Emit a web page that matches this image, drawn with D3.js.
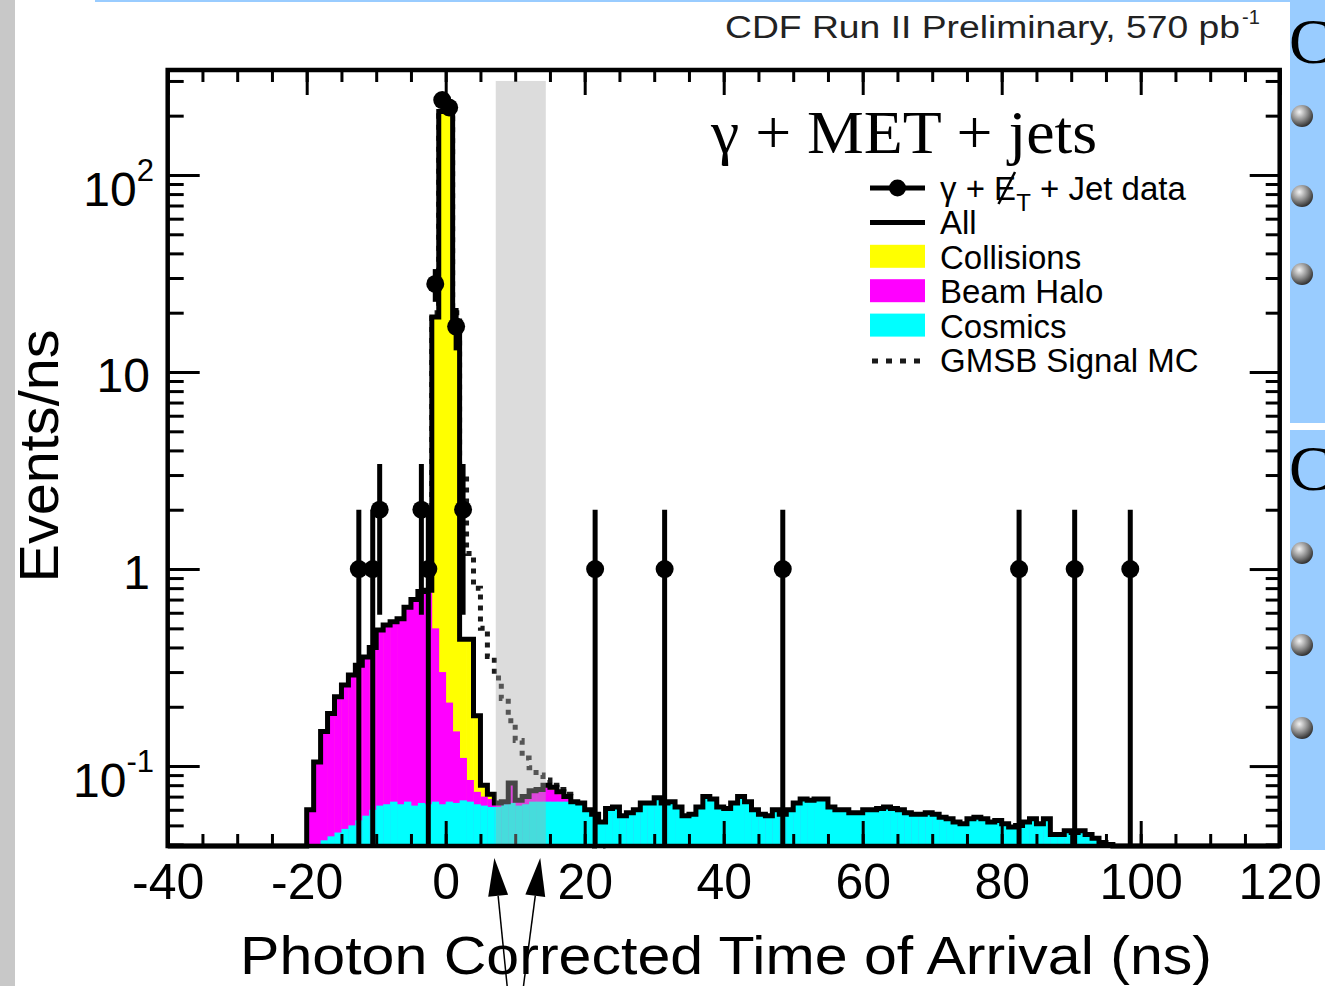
<!DOCTYPE html>
<html lang="en">
<meta charset="utf-8">
<style>
  body { margin: 0; background: #fff; }
  svg text { font-family: "Liberation Sans", Arial, Helvetica, sans-serif; }
</style>
<body>
<div id="chart"></div>

<script src="https://d3js.org/d3.v7.min.js"></script>
<script>

// ---- data (events / ns, 1 ns bins) ----
// stored bins start at -20 ns, bin i covers [firstBin + i, firstBin + i + 1)
var firstBin = -20;

var cosmics = [
  0.036, 0.040, 0.042, 0.044, 0.046, 0.048, 0.050, 0.053, 0.056, 0.060,
  0.063, 0.064, 0.066, 0.064, 0.066, 0.063, 0.065, 0.064, 0.066, 0.064,
  0.066, 0.065, 0.067, 0.066, 0.064, 0.063, 0.062, 0.062, 0.064, 0.065,
  0.063, 0.064, 0.066, 0.066, 0.066, 0.066, 0.066, 0.066,
  0.066, 0.065, 0.060, 0.057, 0.052, 0.061, 0.062, 0.056, 0.058, 0.060,
  0.065, 0.065, 0.069, 0.065, 0.066, 0.062, 0.056, 0.057, 0.062, 0.070,
  0.068, 0.062, 0.061, 0.065, 0.070, 0.066, 0.060, 0.057, 0.056, 0.060,
  0.057, 0.060, 0.065, 0.068, 0.067, 0.068, 0.068, 0.062, 0.060, 0.060,
  0.058, 0.058, 0.060, 0.060, 0.061, 0.062, 0.061, 0.060, 0.058, 0.057,
  0.057, 0.058, 0.057, 0.055, 0.054, 0.052, 0.051, 0.054, 0.055, 0.054,
  0.052, 0.053, 0.051, 0.049, 0.050, 0.052, 0.054, 0.051, 0.054, 0.045,
  0.045, 0.047, 0.046, 0.047, 0.045, 0.043, 0.041, 0.040, 0.039, 0.038,
  0.036, 0.030
];

var beamHalo = [
  0.024, 0.065, 0.108, 0.141, 0.179, 0.210, 0.240, 0.272, 0.302, 0.340,
  0.427, 0.456, 0.474, 0.496, 0.574, 0.637, 0.705, 0.696, 0.434, 0.236,
  0.144, 0.085, 0.043, 0.019, 0.010, 0.007, 0.006, 0.002, 0.001, 0.015,
  0.003, 0.005, 0.008, 0.009, 0.012, 0.010, 0.006, 0.003
];

var collisions = [
  0, 0, 0, 0, 0, 0, 0, 0, 0, 0,
  0, 0, 0, 0, 0, 0, 0, 0.02, 18.5, 209.7,
  209.8, 17.85, 0.33, 0.355, 0.106, 0.010, 0.004, 0.001, 0.001, 0.002,
  0.001, 0.001, 0.001, 0.001, 0.002, 0.002, 0.002, 0.001
];

// GMSB signal MC, first bin starts at -4 ns
var signalStart = -4;
var gmsbSignal = [
  0.05, 0.3, 20, 200, 205, 20, 3.0, 1.2, 0.8, 0.5,
  0.36, 0.28, 0.22, 0.17, 0.135, 0.11, 0.098, 0.09, 0.085, 0.08,
  0.076, 0.072, 0.062, 0.052, 0.044, 0.038, 0.032
];

// gamma + MET + jet data (bin centre, events)
var dataTime  = [-12.5, -10.5, -9.5, -3.5, -2.5, -1.5, -0.5, 0.5, 1.5, 2.5, 21.5, 31.5, 48.5, 82.5, 90.5, 98.5];
var dataCount = [1, 1, 2, 2, 1, 28, 240, 220, 17, 2, 1, 1, 1, 1, 1, 1];

var xTicks = [-40, -20, 0, 20, 40, 60, 80, 100, 120];
var yTickValues = [0.1, 1, 10, 100];
var yTickBase = ["10", "1", "10", "10"];
var yTickExp  = ["-1", "", "", "2"];

// signal timing window (ns) and the arrows pointing at it
var signalWindow = [7.2, 14.4];
var windowTop = 300;
var arrowTimes = [7.0, 13.6];

// ---- layout ----
var W = 1325, H = 986;
var plotL = 167.7, plotR = 1279.7, plotT = 70, plotB = 846;
var yMin = 0.0393, yMax = 341;

var svg = d3.select("#chart").append("svg")
  .attr("width", W).attr("height", H);

var x = d3.scaleLinear().domain([-40, 120]).range([plotL, plotR]);
var y = d3.scaleLog().domain([yMin, yMax]).range([plotB, plotT]);
function yc(v) { return y(Math.max(v, yMin)); }

// page decorations around the picture
svg.append("rect").attr("x", 0).attr("y", 0).attr("width", 15).attr("height", H).attr("fill", "#c8c8c8");
svg.append("rect").attr("x", 95).attr("y", 0).attr("width", 1195).attr("height", 2).attr("fill", "#99ccff");
svg.append("rect").attr("x", 1290).attr("y", 0).attr("width", 35).attr("height", 423).attr("fill", "#99ccff");
svg.append("rect").attr("x", 1290).attr("y", 430).attr("width", 35).attr("height", 420).attr("fill", "#99ccff");
svg.append("text").attr("x", 1289).attr("y", 63).attr("font-size", 64)
  .style("font-family", "'Liberation Serif', 'Times New Roman', serif").text("C");
svg.append("text").attr("x", 1289).attr("y", 490).attr("font-size", 64)
  .style("font-family", "'Liberation Serif', 'Times New Roman', serif").text("C");

var defs = svg.append("defs");
var grad = defs.append("radialGradient").attr("id", "ball")
  .attr("cx", "38%").attr("cy", "32%").attr("r", "70%");
grad.append("stop").attr("offset", "0%").attr("stop-color", "#f4f4f4");
grad.append("stop").attr("offset", "55%").attr("stop-color", "#8a8a8a");
grad.append("stop").attr("offset", "100%").attr("stop-color", "#2e2e2e");
[116, 196, 274, 553, 645, 728].forEach(function(cy) {
  svg.append("circle").attr("cx", 1302).attr("cy", cy).attr("r", 11).attr("fill", "url(#ball)");
});

// ---- histogram stack ----
function valAt(arr, start, t) {
  var i = t - start;
  return (i >= 0 && i < arr.length) ? arr[i] : 0;
}
var bins = d3.range(-40, 120).map(function(t) {
  var c = valAt(cosmics, firstBin, t),
      h = valAt(beamHalo, firstBin, t),
      k = valAt(collisions, firstBin, t);
  return {t: t, cos: c, halo: c + h, all: c + h + k};
});
var sigBins = gmsbSignal.map(function(v, i) { return {t: signalStart + i, sig: v}; });

// step outline: horizontal top per bin, verticals between bins
function stepPath(rows, key) {
  var p = "";
  rows.forEach(function(d, i) {
    var yy = yc(d[key]);
    p += (i === 0 ? "M" + x(d.t) + "," + plotB + "L" : "L") + x(d.t) + "," + yy + "L" + x(d.t + 1) + "," + yy;
  });
  var last = rows[rows.length - 1];
  return p + "L" + x(last.t + 1) + "," + plotB;
}

// signal MC first, so the stack hides it where it is lower
svg.append("path").attr("d", stepPath(sigBins, "sig"))
  .attr("fill", "none").attr("stroke", "#1a1a1a").attr("stroke-width", 5)
  .attr("stroke-dasharray", "5,6");

// stacked fills, one bar per bin for each layer
var plot = svg.append("g");
[["all", "#ffff00"], ["halo", "#ff00ff"], ["cos", "#00ffff"]].forEach(function(layer) {
  plot.append("g").selectAll("rect")
    .data(bins.filter(function(d) { return d[layer[0]] > yMin; }))
    .enter().append("rect")
    .attr("x", function(d) { return x(d.t); })
    .attr("width", function(d) { return x(d.t + 1) - x(d.t) + 0.4; })
    .attr("y", function(d) { return yc(d[layer[0]]); })
    .attr("height", function(d) { return plotB - yc(d[layer[0]]); })
    .attr("fill", layer[1]);
});

// ---- ticks (all pointing inward) ----
var xMinor = d3.range(-40, 121, 5);
var yMinor = [];
[0.01, 0.1, 1, 10, 100].forEach(function(dec) {
  for (var m = 2; m <= 9; m++) {
    var v = m * dec;
    if (v > yMin && v < yMax) yMinor.push(v);
  }
});

function tickAxis(axis, tx, ty) {
  var g = svg.append("g").attr("transform", "translate(" + tx + "," + ty + ")").call(axis);
  g.select(".domain").remove();
  g.selectAll("text").remove();
  g.selectAll("line").attr("stroke", "#000").attr("stroke-width", 3);
  return g;
}
tickAxis(d3.axisBottom(x).tickValues(xMinor).tickSize(-12), 0, plotB);
tickAxis(d3.axisBottom(x).tickValues(xTicks).tickSize(-25), 0, plotB);
tickAxis(d3.axisTop(x).tickValues(xMinor).tickSize(-12), 0, plotT);
tickAxis(d3.axisTop(x).tickValues(xTicks).tickSize(-25), 0, plotT);
tickAxis(d3.axisLeft(y).tickValues(yMinor).tickSize(-16), plotL, 0);
tickAxis(d3.axisLeft(y).tickValues(yTickValues).tickSize(-32), plotL, 0);
tickAxis(d3.axisRight(y).tickValues(yMinor).tickSize(-14), plotR, 0);
tickAxis(d3.axisRight(y).tickValues(yTickValues).tickSize(-30), plotR, 0);

// total outline
svg.append("path").attr("d", stepPath(bins, "all"))
  .attr("fill", "none").attr("stroke", "#000").attr("stroke-width", 5);

// timing window band
svg.append("rect")
  .attr("x", x(signalWindow[0])).attr("y", y(windowTop))
  .attr("width", x(signalWindow[1]) - x(signalWindow[0]))
  .attr("height", plotB - y(windowTop))
  .attr("fill", "#aaaaaa").attr("fill-opacity", 0.41);

// frame
svg.append("rect").attr("x", plotL).attr("y", plotT)
  .attr("width", plotR - plotL).attr("height", plotB - plotT)
  .attr("fill", "none").attr("stroke", "#000").attr("stroke-width", 4.5);

// ---- data points with Poisson errors ----
var data = dataTime.map(function(t, i) { return {t: t, n: dataCount[i]}; });
var pg = svg.append("g");
pg.selectAll("line.err").data(data).enter().append("line")
  .attr("class", "err")
  .attr("x1", function(d) { return x(d.t); })
  .attr("x2", function(d) { return x(d.t); })
  .attr("y1", function(d) { return yc(d.n - Math.sqrt(d.n)); })
  .attr("y2", function(d) { return yc(d.n + Math.sqrt(d.n)); })
  .attr("stroke", "#000").attr("stroke-width", 5);
pg.selectAll("circle").data(data).enter().append("circle")
  .attr("cx", function(d) { return x(d.t); })
  .attr("cy", function(d) { return y(d.n); })
  .attr("r", 9).attr("fill", "#000");

// ---- axis labels ----
var xl = svg.append("g").attr("transform", "translate(0," + plotB + ")")
  .call(d3.axisBottom(x).tickValues(xTicks).tickSize(0).tickPadding(17)
    .tickFormat(function(d) { return String(d); }));
xl.select(".domain").remove();
xl.attr("font-size", 50).attr("font-family", null);
xl.selectAll("text").attr("fill", "#000");

yTickValues.forEach(function(v, i) {
  var hasExp = yTickExp[i] !== "";
  var t = svg.append("text")
    .attr("x", hasExp ? 154 : 150)
    .attr("y", y(v) + (hasExp ? 31 : 20))
    .attr("text-anchor", "end").attr("font-size", 48);
  t.append("tspan").text(yTickBase[i]);
  if (hasExp) t.append("tspan").attr("font-size", 31).attr("dy", -25).text(yTickExp[i]);
});

svg.append("text")
  .attr("transform", "translate(58,456) rotate(-90)")
  .attr("text-anchor", "middle").attr("font-size", 55)
  .attr("textLength", 253).attr("lengthAdjust", "spacingAndGlyphs")
  .text("Events/ns");

svg.append("text")
  .attr("x", 726).attr("y", 974).attr("text-anchor", "middle").attr("font-size", 54)
  .attr("textLength", 972).attr("lengthAdjust", "spacingAndGlyphs")
  .text("Photon Corrected Time of Arrival (ns)");

svg.append("text")
  .attr("x", 725).attr("y", 38).attr("font-size", 31).attr("fill", "#222")
  .attr("textLength", 515).attr("lengthAdjust", "spacingAndGlyphs")
  .text("CDF Run II Preliminary, 570 pb");
svg.append("text")
  .attr("x", 1242).attr("y", 24).attr("font-size", 20).attr("fill", "#222")
  .text("-1");

svg.append("text")
  .attr("x", 711).attr("y", 153).attr("font-size", 62)
  .style("font-family", "'Liberation Serif', 'Times New Roman', serif")
  .attr("textLength", 386).attr("lengthAdjust", "spacingAndGlyphs")
  .text("γ + MET + jets");

// ---- arrows under the axis ----
arrowTimes.forEach(function(t, i) {
  var tipX = x(t), tipY = plotB + 12;
  var tailX = tipX + (i === 0 ? 13 : -17), tailY = H + 2;
  var ang = Math.atan2(tipY - tailY, tipX - tailX);
  var len = 38, half = 10;
  var bx = tipX - len * Math.cos(ang), by = tipY - len * Math.sin(ang);
  var px = -Math.sin(ang) * half, py = Math.cos(ang) * half;
  svg.append("line").attr("x1", tailX).attr("y1", tailY).attr("x2", bx).attr("y2", by)
    .attr("stroke", "#000").attr("stroke-width", 1.5);
  svg.append("path")
    .attr("d", "M" + tipX + "," + tipY + "L" + (bx + px) + "," + (by + py) + "L" + (bx - px) + "," + (by - py) + "Z")
    .attr("fill", "#000");
});

// ---- legend ----
var lgX = 870, lgW = 55, lgTextX = 940, lgBase = 200, lgStep = 34.4;
var lg = svg.append("g").attr("font-size", 33);
function rowY(i) { return lgBase + i * lgStep; }

lg.append("line").attr("x1", lgX).attr("x2", lgX + lgW).attr("y1", rowY(0) - 12).attr("y2", rowY(0) - 12)
  .attr("stroke", "#000").attr("stroke-width", 5);
lg.append("circle").attr("cx", lgX + lgW / 2).attr("cy", rowY(0) - 12).attr("r", 8.5).attr("fill", "#000");
var t0 = lg.append("text").attr("x", lgTextX).attr("y", rowY(0));
t0.append("tspan").text("γ + ");
t0.append("tspan").text("E");
t0.append("tspan").attr("font-size", 24).attr("dy", 11).text("T");
t0.append("tspan").attr("dy", -11).text(" + Jet data");
var ext = t0.node().getExtentOfChar(4);
lg.append("line")
  .attr("x1", ext.x + ext.width * 0.95).attr("y1", rowY(0) - 28)
  .attr("x2", ext.x + ext.width * 0.2).attr("y2", rowY(0) + 4)
  .attr("stroke", "#000").attr("stroke-width", 2.5);

lg.append("line").attr("x1", lgX).attr("x2", lgX + lgW).attr("y1", rowY(1) - 12).attr("y2", rowY(1) - 12)
  .attr("stroke", "#000").attr("stroke-width", 5);
lg.append("text").attr("x", lgTextX).attr("y", rowY(1)).text("All");

var boxes = [["#ffff00", "Collisions"], ["#ff00ff", "Beam Halo"], ["#00ffff", "Cosmics"]];
boxes.forEach(function(b, j) {
  var i = j + 2;
  lg.append("rect").attr("x", lgX).attr("y", rowY(i) - 24).attr("width", lgW).attr("height", 23).attr("fill", b[0]);
  lg.append("text").attr("x", lgTextX).attr("y", rowY(i)).text(b[1]);
});

lg.append("line").attr("x1", lgX + 2).attr("x2", lgX + lgW).attr("y1", rowY(5) - 11).attr("y2", rowY(5) - 11)
  .attr("stroke", "#1a1a1a").attr("stroke-width", 5).attr("stroke-dasharray", "6,8");
lg.append("text").attr("x", lgTextX).attr("y", rowY(5)).text("GMSB Signal MC");

</script>
</body>
</html>
